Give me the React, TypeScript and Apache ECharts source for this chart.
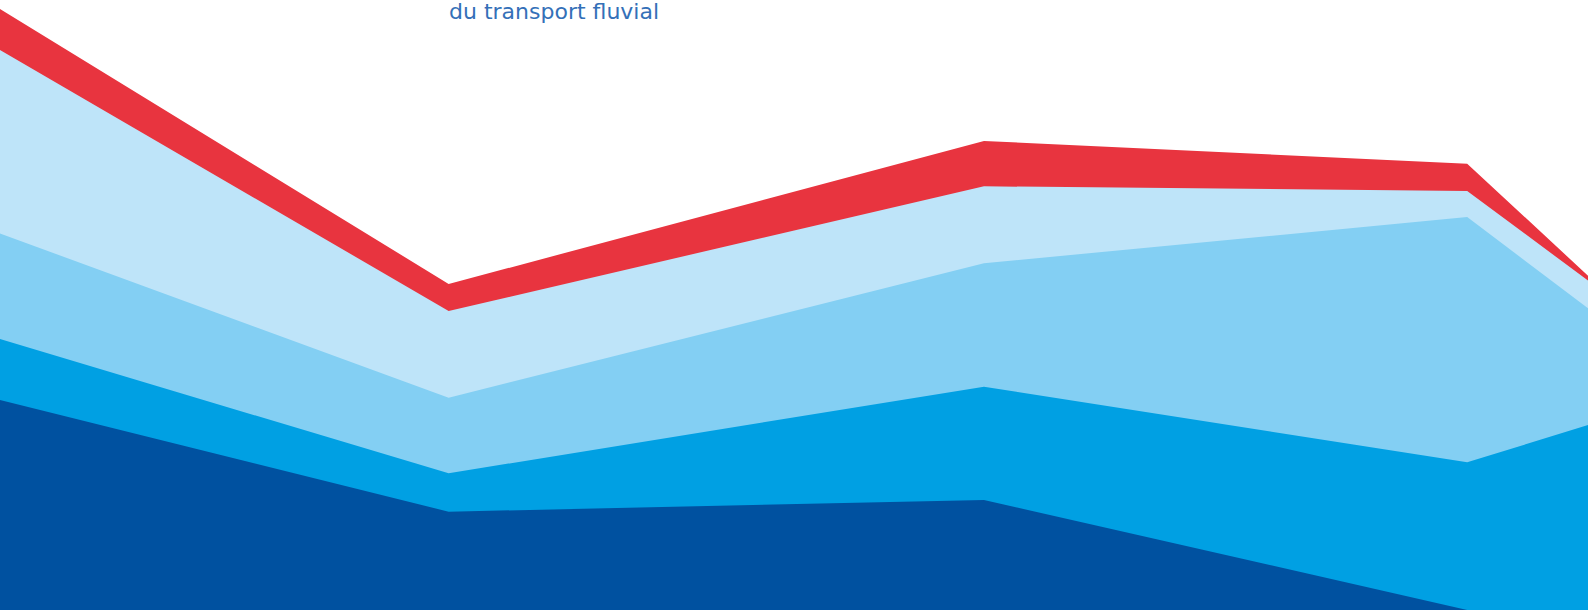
import React, { useEffect, useRef } from "react";
import * as echarts from "echarts";

// Positions along the (unlabelled) time axis
const xValues = [0, 9.21, 20.2, 30.12, 32.6];
// Stacked layers, bottom to top
const darkBlue = [21.0, 9.83, 11.0, 0, 0];
const brightBlue = [6.1, 3.84, 11.33, 14.77, 18.5];
const midBlue = [10.55, 7.56, 12.34, 24.53, 11.67];
const lightBlue = [18.35, 8.67, 7.7, 2.6, 2.78];
const red = [4.1, 2.7, 4.53, 2.73, 0.48];

const titleLine = "du transport fluvial";

const layers = [
  { name: "dark", data: darkBlue, color: "#0051A0" },
  { name: "bright", data: brightBlue, color: "#00A0E3" },
  { name: "mid", data: midBlue, color: "#83CFF3" },
  { name: "light", data: lightBlue, color: "#BEE4F9" },
  { name: "red", data: red, color: "#E8343F" },
];

export default function App() {
  const ref = useRef<HTMLDivElement>(null);
  useEffect(() => {
    if (!ref.current) return;
    const chart = echarts.init(ref.current, undefined, { renderer: "svg" });
    // cumulative tops of each layer (manual stacking on a value x-axis)
    const running = xValues.map(() => 0);
    const stacked = layers.map((l) => {
      const tops = l.data.map((v, i) => (running[i] += v));
      return { ...l, tops: [...tops] };
    });
    // draw the tallest (top) layer first so lower layers paint over it
    const ordered = stacked.slice().reverse();
    chart.setOption({
      animation: false,
      grid: { left: 0, right: 0, top: 0, bottom: 0 },
      xAxis: {
        type: "value",
        min: 0,
        max: 32.6,
        show: false,
        splitLine: { show: false },
      },
      yAxis: {
        type: "value",
        min: 0,
        max: 61,
        show: false,
        splitLine: { show: false },
      },
      graphic: [
        {
          type: "text",
          left: 449,
          top: 0,
          style: {
            text: titleLine,
            fill: "#3470B8",
            font: '400 22px "DejaVu Sans", sans-serif',
          },
          z: 100,
        },
      ],
      series: ordered.map((l, k) => ({
        type: "line",
        name: l.name,
        z: 2 + k,
        data: l.tops.map((v, i) => [xValues[i], v]),
        showSymbol: false,
        symbol: "none",
        lineStyle: { width: 0 },
        areaStyle: { color: l.color, opacity: 1 },
        itemStyle: { color: l.color },
      })),
    });
    return () => chart.dispose();
  }, []);
  return (
    <div
      ref={ref}
      style={{ position: "fixed", left: 0, top: 0, width: 1588, height: 610, background: "#fff" }}
    />
  );
}
